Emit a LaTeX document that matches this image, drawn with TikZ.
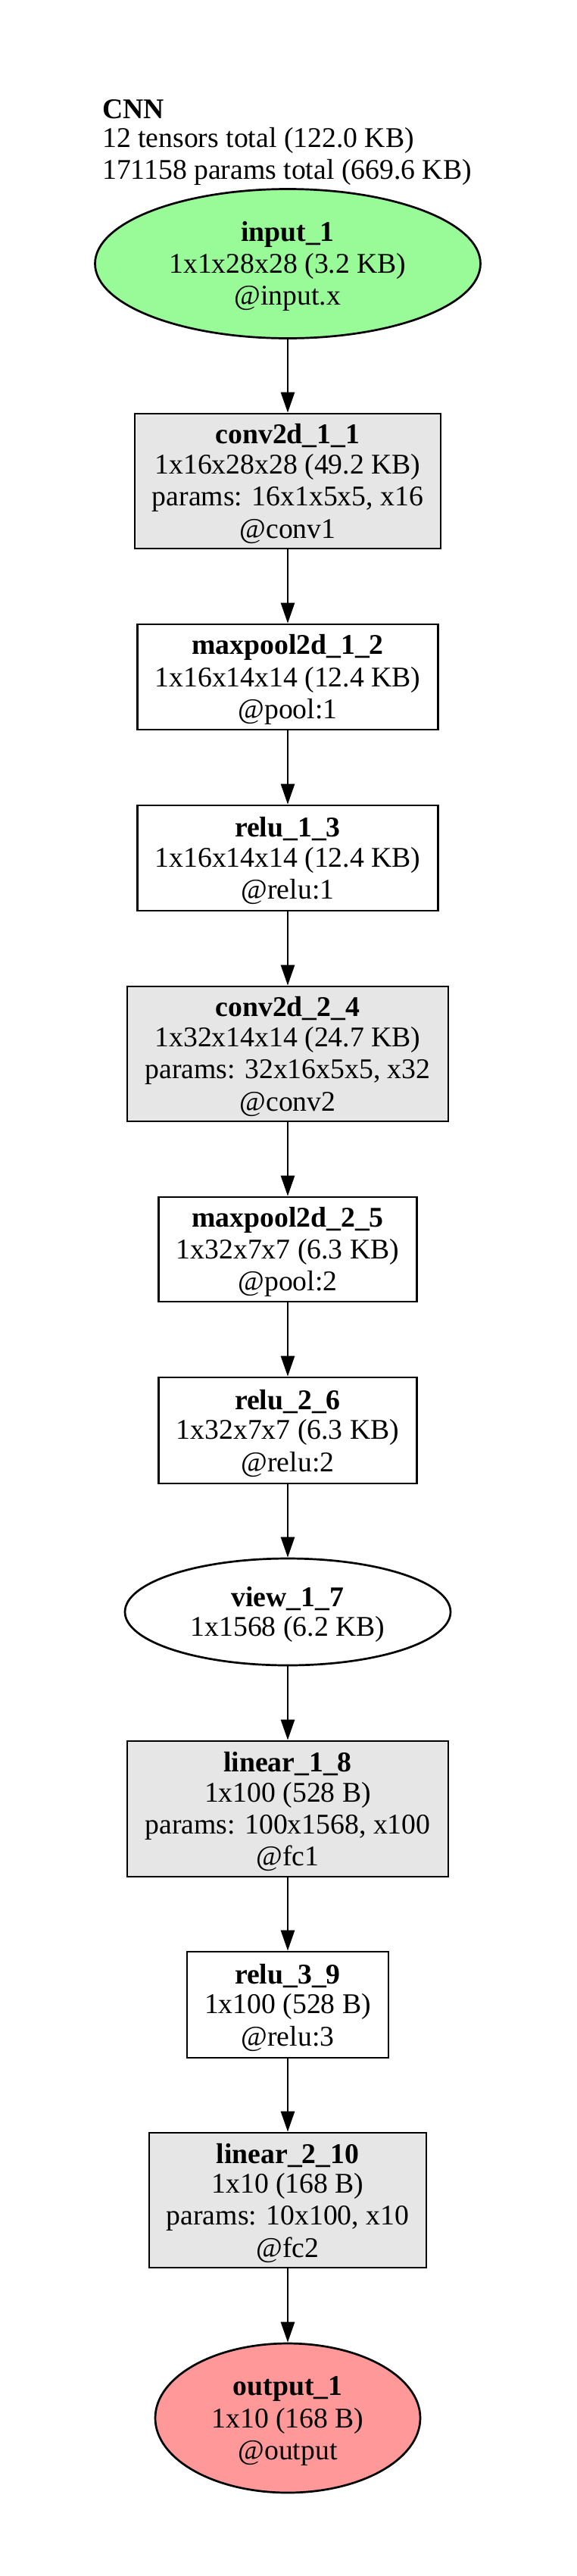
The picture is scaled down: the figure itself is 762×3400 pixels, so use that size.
\documentclass[tikz,border=0pt]{standalone}
\usepackage{fontspec}
\setmainfont{Liberation Serif}
\usetikzlibrary{shapes.geometric,arrows.meta}
\newcommand{\ls}{\rule[-5pt]{0pt}{38.3pt}}
\definecolor{ingreen}{HTML}{98FB98}
\definecolor{outred}{HTML}{FF9999}
\definecolor{paramgray}{HTML}{E6E6E6}
\begin{document}
\begin{tikzpicture}[x=1pt,y=-1pt,
  lbl/.style={font=\fontsize{37.7}{38.3}\selectfont, align=center, inner sep=0pt, line width=2.7pt, draw=black},
  plainbox/.style={lbl, rectangle, fill=white},
  parambox/.style={lbl, rectangle, fill=paramgray},
  oval/.style={lbl, ellipse},
  arr/.style={line width=2.7pt, -{Triangle[length=27pt,width=18pt]}}]
\useasboundingbox[fill=white] (0,0) rectangle (762,3400);
\node[anchor=north west, inner sep=0pt, align=left, font=\fontsize{37.7}{38.3}\selectfont] (title) at (135,122.7)
  {\ls\textbf{CNN}\\\ls 12 tensors total (122.0 KB)\\\ls 171158 params total (669.6 KB)};
\node[oval, fill=ingreen, minimum width=509, minimum height=197] (in) at (380,348)
  {\ls\textbf{input\_1}\\\ls 1x1x28x28 (3.2 KB)\\\ls @input.x};
\node[parambox, minimum width=404, minimum height=178] (c1) at (380,635)
  {\ls\textbf{conv2d\_1\_1}\\\ls 1x16x28x28 (49.2 KB)\\\ls params: 16x1x5x5, x16\\\ls @conv1};
\node[plainbox, minimum width=397, minimum height=139] (p1) at (380,893.5)
  {\ls\textbf{maxpool2d\_1\_2}\\\ls 1x16x14x14 (12.4 KB)\\\ls @pool:1};
\node[plainbox, minimum width=397, minimum height=139] (r1) at (380,1132.5)
  {\ls\textbf{relu\_1\_3}\\\ls 1x16x14x14 (12.4 KB)\\\ls @relu:1};
\node[parambox, minimum width=424, minimum height=178] (c2) at (380,1391)
  {\ls\textbf{conv2d\_2\_4}\\\ls 1x32x14x14 (24.7 KB)\\\ls params: 32x16x5x5, x32\\\ls @conv2};
\node[plainbox, minimum width=341, minimum height=138] (p2) at (380,1649)
  {\ls\textbf{maxpool2d\_2\_5}\\\ls 1x32x7x7 (6.3 KB)\\\ls @pool:2};
\node[plainbox, minimum width=341, minimum height=140] (r2) at (380,1888)
  {\ls\textbf{relu\_2\_6}\\\ls 1x32x7x7 (6.3 KB)\\\ls @relu:2};
\node[oval, fill=white, minimum width=430, minimum height=141] (v) at (380,2127.5)
  {\ls\textbf{view\_1\_7}\\\ls 1x1568 (6.2 KB)};
\node[parambox, minimum width=424, minimum height=179] (l1) at (380,2387.5)
  {\ls\textbf{linear\_1\_8}\\\ls 1x100 (528 B)\\\ls params: 100x1568, x100\\\ls @fc1};
\node[plainbox, minimum width=266, minimum height=140] (r3) at (380,2646)
  {\ls\textbf{relu\_3\_9}\\\ls 1x100 (528 B)\\\ls @relu:3};
\node[parambox, minimum width=366, minimum height=178] (l2) at (380,2904)
  {\ls\textbf{linear\_2\_10}\\\ls 1x10 (168 B)\\\ls params: 10x100, x10\\\ls @fc2};
\node[oval, fill=outred, minimum width=350, minimum height=197] (out) at (380,3191.5)
  {\ls\textbf{output\_1}\\\ls 1x10 (168 B)\\\ls @output};
\draw[arr] (in) -- (c1);
\draw[arr] (c1) -- (p1);
\draw[arr] (p1) -- (r1);
\draw[arr] (r1) -- (c2);
\draw[arr] (c2) -- (p2);
\draw[arr] (p2) -- (r2);
\draw[arr] (r2) -- (v);
\draw[arr] (v) -- (l1);
\draw[arr] (l1) -- (r3);
\draw[arr] (r3) -- (l2);
\draw[arr] (l2) -- (out);
\end{tikzpicture}
\end{document}
